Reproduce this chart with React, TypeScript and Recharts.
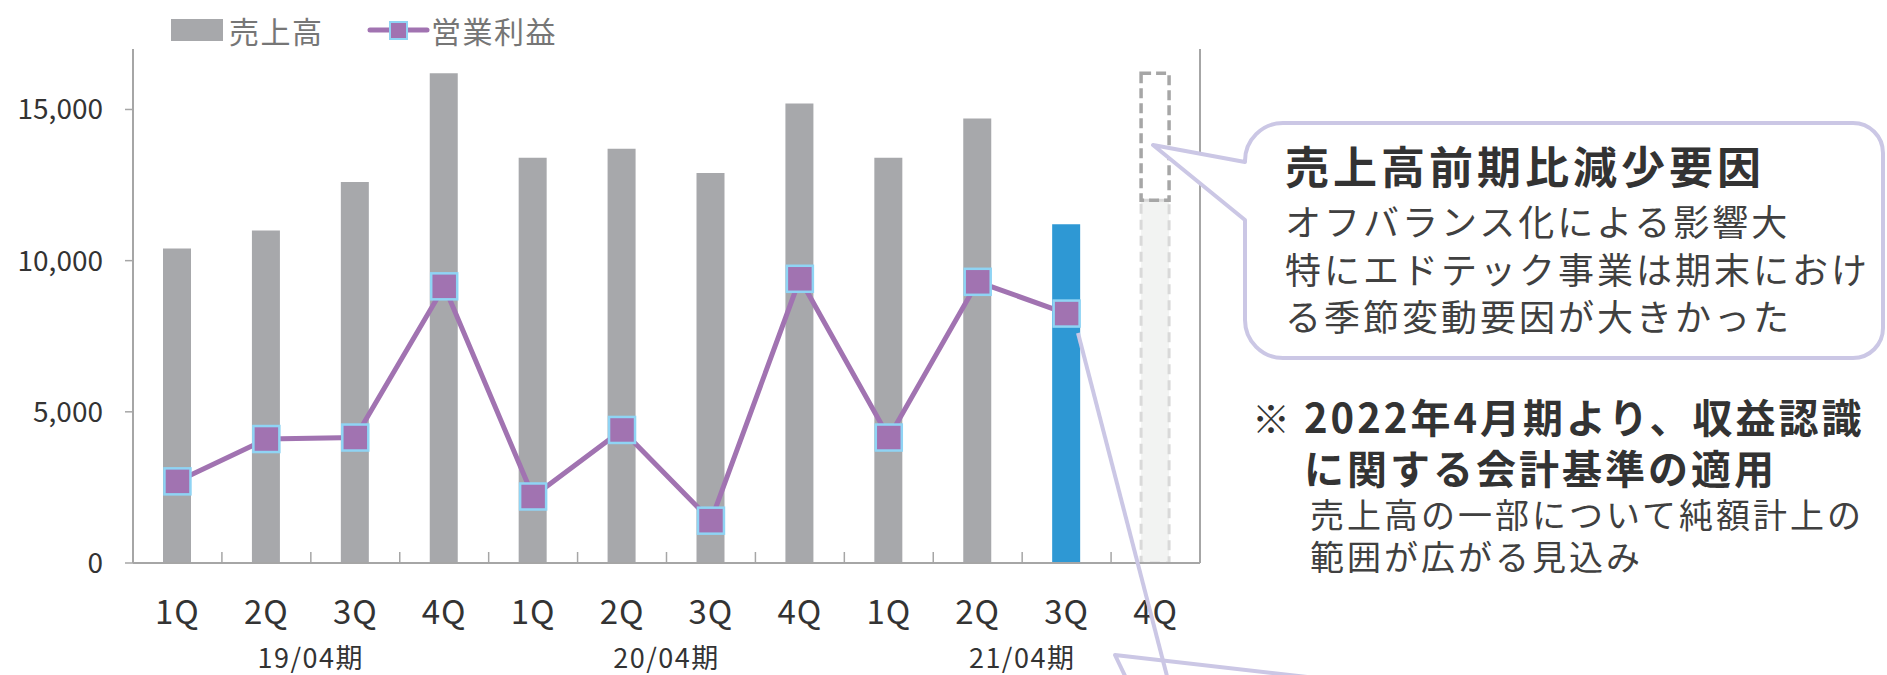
import React from "react";
import { Bar, Cell, ComposedChart, Line, XAxis, YAxis } from "recharts";

// 四半期売上高・営業利益 (19/04期〜21/04期)
const quarters = ["1Q", "2Q", "3Q", "4Q", "1Q", "2Q", "3Q", "4Q", "1Q", "2Q", "3Q", "4Q"];
const periods = ["19/04期", "20/04期", "21/04期"];
const sales = [10400, 11000, 12600, 16200, 13400, 13700, 12900, 15200, 13400, 14700, 11200, null];
const forecastSales = [null, null, null, null, null, null, null, null, null, null, null, 12000];
const forecastShortfall = [null, null, null, null, null, null, null, null, null, null, null, 4200];
const operatingProfit = [2700, 4100, 4150, 9150, 2200, 4400, 1400, 9400, 4150, 9300, 8250, null];
const salesTicks = [0, 5000, 10000, 15000];
const rightTicks = [0, 1, 2, 3, 4, 5];
const currentQuarter = 10;

const FONT = '"Noto Sans CJK JP", "Noto Sans", sans-serif';
const GRAY = "#a7a8ab";
const BLUE = "#2e98d4";
const PURPLE = "#a173b1";
const MARKER_EDGE = "#8fd4f4";
const AXIS = "#a6a6a6";
const LAVENDER = "#cbc7e5";
const TEXT = "#333333";

const data = quarters.map((q, i) => ({
  q,
  sales: sales[i],
  forecast: forecastSales[i],
  shortfall: forecastShortfall[i],
  profit: operatingProfit[i],
}));

const perPeriod = quarters.length / periods.length;

const SquareDot = (props: any) => {
  const { cx, cy, index } = props;
  if (cx == null || cy == null) return <g key={index} />;
  return (
    <rect
      key={index}
      x={cx - 13}
      y={cy - 13}
      width={26}
      height={26}
      fill={PURPLE}
      stroke={MARKER_EDGE}
      strokeWidth={2.5}
    />
  );
};

// quarter label + tick marks on the category boundaries + fiscal-year label
const QuarterTick = ({ x, y, payload, index }: any) => {
  const half = payload.offset ?? 44.45;
  const i = index ?? payload.index;
  const isLast = i === quarters.length - 1;
  const periodIdx = i % perPeriod === perPeriod / 2 ? Math.floor(i / perPeriod) : -1;
  return (
    <g>
      <line x1={x - half} y1={y} x2={x - half} y2={y - 11} stroke={AXIS} strokeWidth={1.5} />
      {isLast && (
        <line x1={x + half} y1={y} x2={x + half} y2={y - 11} stroke={AXIS} strokeWidth={1.5} />
      )}
      <text
        x={x}
        y={y + 47}
        textAnchor="middle"
        dominantBaseline="central"
        fontSize={33}
        letterSpacing={1}
        fontFamily={FONT}
        fill={TEXT}
      >
        {payload.value}
      </text>
      {periodIdx >= 0 && (
        <text
          x={x - half}
          y={y + 93}
          textAnchor="middle"
          dominantBaseline="central"
          fontSize={27}
          letterSpacing={1.5}
          fontFamily={FONT}
          fill={TEXT}
        >
          {periods[periodIdx]}
        </text>
      )}
    </g>
  );
};

function Annotations() {
  return (
    <svg
      width={1887}
      height={675}
      style={{ position: "absolute", left: 0, top: 0, pointerEvents: "none" }}
    >
      {/* legend */}
      <rect x={171} y={19} width={52} height={22} fill={GRAY} />
      <text x={229} y={30} dominantBaseline="central" fontSize={30} letterSpacing={1.5} fontFamily={FONT} fill="#767676">
        売上高
      </text>
      <line x1={370} y1={30} x2={427} y2={30} stroke={PURPLE} strokeWidth={5} strokeLinecap="round" />
      <rect x={390} y={22} width={17} height={17} fill={PURPLE} stroke={MARKER_EDGE} strokeWidth={2} />
      <text x={431} y={30} dominantBaseline="central" fontSize={30} letterSpacing={1.5} fontFamily={FONT} fill="#767676">
        営業利益
      </text>

      {/* callout */}
      <path
        d="M 1283 123 H 1853 A 30 30 0 0 1 1883 153 V 328 A 30 30 0 0 1 1853 358 H 1283 A 38 38 0 0 1 1245 320 V 220 L 1153 145 L 1245 162 V 161 A 38 38 0 0 1 1283 123 Z"
        fill="#fff"
        stroke={LAVENDER}
        strokeWidth={4}
        strokeLinejoin="round"
      />
      <g fontFamily={FONT}>
        <text x={1285} y={165} dominantBaseline="central" fontSize={44} fontWeight="bold" letterSpacing={4} fill={TEXT}>
          売上高前期比減少要因
        </text>
        <text x={1285} y={220} dominantBaseline="central" fontSize={36} letterSpacing={3} fill="#404040">
          オフバランス化による影響大
        </text>
        <text x={1285} y={268} dominantBaseline="central" fontSize={36} letterSpacing={3} fill="#404040">
          特にエドテック事業は期末におけ
        </text>
        <text x={1285} y={315} dominantBaseline="central" fontSize={36} letterSpacing={3} fill="#404040">
          る季節変動要因が大きかった
        </text>

        <text x={1252} y={416} dominantBaseline="central" fontSize={38} fill={TEXT}>
          ※
        </text>
        <text x={1304} y={416} dominantBaseline="central" fontSize={40} fontWeight="bold" letterSpacing={3} fill={TEXT}>
          2022年4月期より、収益認識
        </text>
        <text x={1304} y={467} dominantBaseline="central" fontSize={40} fontWeight="bold" letterSpacing={3} fill={TEXT}>
          に関する会計基準の適用
        </text>
        <text x={1310} y={513} dominantBaseline="central" fontSize={34} letterSpacing={3} fill="#404040">
          売上高の一部について純額計上の
        </text>
        <text x={1310} y={555} dominantBaseline="central" fontSize={34} letterSpacing={3} fill="#404040">
          範囲が広がる見込み
        </text>
      </g>

      {/* connectors of the callout below */}
      <line x1={1078} y1={333} x2={1168} y2={680} stroke={LAVENDER} strokeWidth={4} />
      <polyline
        points="1316,678 1115,655 1127,680"
        fill="none"
        stroke={LAVENDER}
        strokeWidth={4}
        strokeLinejoin="round"
      />
    </svg>
  );
}

export default function App() {
  return (
    <div
      style={{
        position: "absolute",
        left: 0,
        top: 0,
        width: 1887,
        height: 675,
        background: "#fff",
        fontFamily: FONT,
      }}
    >
      <ComposedChart
        width={1887}
        height={675}
        data={data}
        margin={{ top: 49, right: 667, bottom: 0, left: 0 }}
      >
        <XAxis
          dataKey="q"
          height={112}
          interval={0}
          axisLine={{ stroke: AXIS, strokeWidth: 2 }}
          tickLine={false}
          tickSize={0}
          tickMargin={0}
          tick={<QuarterTick />}
        />
        <YAxis
          yAxisId="left"
          domain={[0, 17000]}
          ticks={salesTicks}
          allowDataOverflow
          width={133}
          tickSize={8}
          tickMargin={22}
          tickFormatter={(v: number) => v.toLocaleString("en-US")}
          tick={{ fill: TEXT, fontSize: 28, fontFamily: FONT }}
          axisLine={{ stroke: AXIS, strokeWidth: 2 }}
          tickLine={{ stroke: AXIS, strokeWidth: 1.5 }}
        />
        <YAxis
          yAxisId="right"
          orientation="right"
          type="number"
          domain={[0, 5]}
          ticks={rightTicks}
          allowDataOverflow
          width={20}
          tick={false}
          tickSize={7}
          axisLine={{ stroke: AXIS, strokeWidth: 2 }}
          tickLine={{ stroke: AXIS, strokeWidth: 1.5 }}
        />
        <Bar
          yAxisId="left"
          dataKey="sales"
          name="売上高"
          stackId="s"
          barSize={28}
          fill={GRAY}
          isAnimationActive={false}
        >
          {data.map((_, i) => (
            <Cell key={i} fill={i === currentQuarter ? BLUE : GRAY} />
          ))}
        </Bar>
        <Bar
          yAxisId="left"
          dataKey="forecast"
          stackId="s"
          barSize={28}
          fill="#f2f3f2"
          stroke="#d9d9d9"
          strokeWidth={3}
          strokeDasharray="10 6"
          isAnimationActive={false}
        />
        <Bar
          yAxisId="left"
          dataKey="shortfall"
          stackId="s"
          barSize={28}
          fill="none"
          stroke={AXIS}
          strokeWidth={3.5}
          strokeDasharray="10 5"
          isAnimationActive={false}
        />
        <Line
          yAxisId="left"
          dataKey="profit"
          name="営業利益"
          type="linear"
          stroke={PURPLE}
          strokeWidth={5}
          dot={SquareDot}
          activeDot={false}
          isAnimationActive={false}
        />
      </ComposedChart>
      <Annotations />
    </div>
  );
}
